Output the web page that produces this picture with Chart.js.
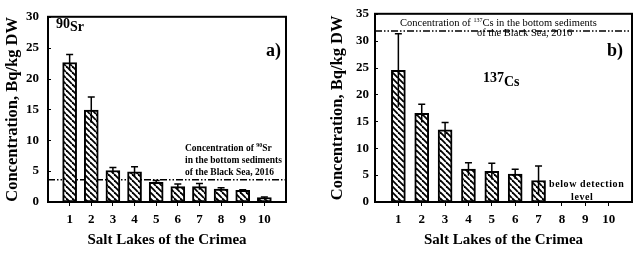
<!DOCTYPE html>
<html>
<head>
<meta charset="utf-8">
<script src="https://cdn.jsdelivr.net/npm/chart.js@4.4.1/dist/chart.umd.min.js"></script>
<style>
body { margin: 0; background: #fff; }
canvas { position: absolute; top: 0; }
#srChart { left: 0; }
#csChart { left: 320px; }
</style>
</head>
<body>
<canvas id="srChart" width="320" height="258"></canvas>
<canvas id="csChart" width="319" height="258"></canvas>
<script>
// lakes 1..10
const lakes = ['1', '2', '3', '4', '5', '6', '7', '8', '9', '10'];

// a) 90Sr, Bq/kg DW
const sr90 = [22.6, 14.9, 5.1, 4.9, 3.2, 2.5, 2.5, 2.1, 1.9, 0.7];
const sr90Err = [1.3, 2.1, 0.5, 0.8, 0.3, 0.4, 0.5, 0.2, 0.1, 0.1];
const sr90Sea = 3.6;
const srTicks = [0, 5, 10, 15, 20, 25, 30];

// b) 137Cs, Bq/kg DW (8-10 below detection level)
const cs137 = [24.5, 16.5, 13.4, 6.1, 5.7, 5.2, 4.0, null, null, null];
const cs137Err = [6.8, 1.7, 1.4, 1.2, 1.5, 0.9, 2.7, null, null, null];
const cs137Sea = 31.8;
const csTicks = [0, 5, 10, 15, 20, 25, 30, 35];

const serif = "'Liberation Serif', 'Times New Roman', serif";

function hatch() {
    const c = document.createElement('canvas');
    c.width = 6; c.height = 6;
    const g = c.getContext('2d');
    g.fillStyle = '#fff';
    g.fillRect(0, 0, 6, 6);
    g.strokeStyle = '#000';
    g.lineWidth = 1.8;
    for (let x0 = -6; x0 <= 6; x0 += 6) {
        g.beginPath();
        g.moveTo(x0, 0);
        g.lineTo(x0 + 6, 6);
        g.stroke();
    }
    return g.createPattern(c, 'repeat');
}

// draws text made of pieces [text, font, dy]
function runs(ctx, x, y, parts) {
    ctx.textBaseline = 'alphabetic';
    ctx.textAlign = 'left';
    for (const [t, f, dy] of parts) {
        ctx.font = f;
        ctx.fillText(t, x, y + (dy || 0));
        x += ctx.measureText(t).width;
    }
}

function decor(values, errors, sea, notes) {
    return {
        id: 'decor',
        beforeDatasetsDraw(chart) {
            const {ctx, chartArea: a, scales: {y}} = chart;
            const py = y.getPixelForValue(sea);
            ctx.save();
            ctx.strokeStyle = '#000';
            ctx.lineWidth = 1.5;
            ctx.setLineDash([7, 2, 1.5, 2, 1.5, 2]);
            ctx.beginPath();
            ctx.moveTo(a.left, py);
            ctx.lineTo(a.right, py);
            ctx.stroke();
            ctx.restore();
        },
        afterDatasetsDraw(chart) {
            const {ctx, chartArea: a, scales: {x, y}} = chart;
            ctx.save();
            ctx.strokeStyle = '#000';
            ctx.lineWidth = 1.5;
            values.forEach((v, i) => {
                if (v == null || errors[i] == null) return;
                const px = x.getPixelForValue(i + 1);
                const top = y.getPixelForValue(v + errors[i]);
                const bot = y.getPixelForValue(v - errors[i]);
                ctx.beginPath();
                ctx.moveTo(px, bot);
                ctx.lineTo(px, top);
                ctx.moveTo(px - 3.5, top);
                ctx.lineTo(px + 3.5, top);
                ctx.stroke();
            });
            // little inner ticks on the value axis
            ctx.lineWidth = 1;
            y.ticks.forEach(t => {
                const py = Math.round(y.getPixelForValue(t.value)) + 0.5;
                ctx.beginPath();
                ctx.moveTo(a.left, py);
                ctx.lineTo(a.left + 3, py);
                ctx.stroke();
            });
            ctx.restore();
        },
        afterDraw(chart) {
            const {ctx, chartArea: a} = chart;
            ctx.save();
            ctx.strokeStyle = '#000';
            ctx.lineWidth = 2;
            ctx.strokeRect(a.left, a.top, a.right - a.left, a.bottom - a.top);
            ctx.fillStyle = '#000';
            notes(ctx);
            ctx.restore();
        }
    };
}

function makeChart(id, values, errors, sea, yTicks, axisW, rightPad, tickPad, titlePad, notes) {
    const font = {family: serif, size: 13, weight: 'bold'};
    const titleFont = {family: serif, size: 15, weight: 'bold'};
    return new Chart(document.getElementById(id), {
        type: 'bar',
        data: {
            datasets: [{
                data: values.map((v, i) => v == null ? null : {x: i + 1, y: v}).filter(Boolean),
                backgroundColor: hatch(),
                borderColor: '#000',
                borderWidth: 2,
                borderSkipped: false,
                barThickness: 14
            }]
        },
        options: {
            responsive: false,
            animation: false,
            layout: {padding: {left: 0, right: rightPad, top: 10, bottom: 0}},
            plugins: {legend: {display: false}, tooltip: {enabled: false}},
            scales: {
                x: {
                    type: 'linear', min: 0, max: 11, offset: false,
                    afterFit: s => { s.height = 56; },
                    afterBuildTicks: s => { s.ticks = lakes.map((l, i) => ({value: i + 1})); },
                    ticks: {callback: v => lakes[v - 1], font: font, color: '#000', padding: 6, maxRotation: 0, autoSkip: false},
                    grid: {drawOnChartArea: false, offset: false, color: '#000', tickLength: 4},
                    border: {color: '#000', width: 2},
                    title: {display: true, text: 'Salt Lakes of the Crimea', font: titleFont, color: '#000', padding: {top: 0, bottom: 9}}
                },
                y: {
                    min: 0, max: yTicks[yTicks.length - 1],
                    afterFit: s => { s.width = axisW; },
                    afterBuildTicks: s => { s.ticks = yTicks.map(v => ({value: v})); },
                    ticks: {font: font, color: '#000', padding: tickPad},
                    grid: {display: false, drawTicks: false, tickLength: 0},
                    border: {color: '#000', width: 2},
                    title: {display: true, text: 'Concentration, Bq/kg DW', font: {family: serif, size: 16.5, weight: 'bold'}, color: '#000', padding: {top: titlePad, bottom: 0}}
                }
            }
        },
        plugins: [decor(values, errors, sea, notes)]
    });
}

makeChart('srChart', sr90, sr90Err, sr90Sea, srTicks, 48, 34, 9, 3, ctx => {
    const b14 = 'bold 14px ' + serif;
    runs(ctx, 56, 28, [['90', b14, 0], ['Sr', b14, 3]]);
    ctx.font = 'bold 18px ' + serif;
    ctx.fillText('a)', 266, 56);
    const b9 = 'bold 9.5px ' + serif;
    runs(ctx, 185, 151, [['Concentration of ', b9, 0], ['90', 'bold 6px ' + serif, -4], ['Sr', b9, 0]]);
    runs(ctx, 185, 163, [['in the bottom sediments', b9, 0]]);
    runs(ctx, 185, 175, [['of the Black Sea, 2016', b9, 0]]);
});

makeChart('csChart', cs137, cs137Err, cs137Sea, csTicks, 55, 7, 6, 8, ctx => {
    const b14 = 'bold 14px ' + serif;
    runs(ctx, 163, 82, [['137', b14, 0], ['Cs', b14, 4]]);
    ctx.font = 'bold 18px ' + serif;
    ctx.fillText('b)', 287, 56);
    const r10 = '10.5px ' + serif;
    runs(ctx, 80, 26, [['Concentration of ', r10, 0], ['137', '6px ' + serif, -4], ['Cs in the bottom sediments', r10, 0]]);
    runs(ctx, 157, 36, [['of the Black Sea, 2016', r10, 0]]);
    const b10 = 'bold 10px ' + serif;
    ctx.letterSpacing = '0.6px';
    runs(ctx, 229, 187, [['below detection', b10, 0]]);
    runs(ctx, 251, 200, [['level', b10, 0]]);
});
</script>
</body>
</html>
